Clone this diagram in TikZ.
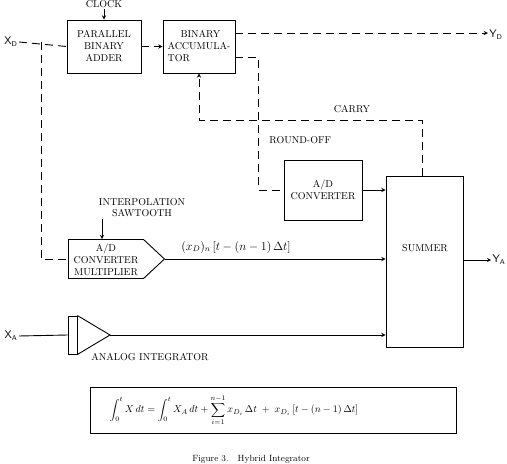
\documentclass[tikz,border=0pt]{standalone}
\usepackage{amsmath}
\usepackage{amssymb}
\usepackage{tikz}
\usetikzlibrary{shapes,arrows,positioning,calc}

\begin{document}
\begin{tikzpicture}[
    x=1pt, y=-1pt,
    block/.style={rectangle, draw, line width=0.9pt, align=center, inner sep=2pt, font=\fontsize{10}{12}\selectfont},
    tag/.style={align=center, inner sep=1pt, font=\fontsize{10}{11}\selectfont},
    io/.style={inner sep=1pt, font=\fontsize{10.5}{12}\selectfont},
    arrow/.style={->, >=stealth, line width=0.9pt},
    dashline/.style={line width=0.9pt, dash pattern=on 8pt off 5pt},
    every path/.style={line width=0.9pt}
]
\useasboundingbox (0,0) rectangle (507,464);

% ── Digital part ──
\node[block, minimum width=74, minimum height=53] (pba) at (104,46.5) {PARALLEL\\BINARY\\ADDER};
\node[block, minimum width=72, minimum height=53, align=left] (ba) at (199,46.5) {\hspace*{1.3em}BINARY\\ACCUMULA-\\TOR};
\node[tag] (clock) at (104,4) {CLOCK};
\node[io] (xD) at (11,42) {$\mathsf{X}_{\mathsf{D}}$};
\node[io] (yD) at (496,35) {$\mathsf{Y}_{\mathsf{D}}$};

% ── Converters and summer ──
\node[block, minimum width=78, minimum height=60] (adc) at (323,190) {A/D\\CONVERTER};
\node[rectangle, draw, line width=0.9pt, minimum width=77, minimum height=171] (summer) at (424.5,261.5) {};
\node[tag] (summerlbl) at (425,248) {SUMMER};
\node[signal, signal to=east, signal pointer angle=86, draw, line width=0.9pt, minimum width=96, minimum height=39, inner sep=0pt, anchor=west] (mult) at (68,259) {};
\node[tag, font=\fontsize{10}{12}\selectfont] (multlbl) at (106,260) {A/D\\CONVERTER\\MULTIPLIER};
\node[tag] (interp) at (142,208) {INTERPOLATION\\SAWTOOTH};
\node[io] (yA) at (499,260) {$\mathsf{Y}_{\mathsf{A}}$};
\node[font=\large] (multout) at (236,247) {$(x_D)_n\left[t-(n-1)\,\Delta t\right]$};

% ── Analog integrator ──
\node[io] (xA) at (11,336) {$\mathsf{X}_{\mathsf{A}}$};
\node[rectangle, draw, line width=0.9pt, minimum width=9, minimum height=38, inner sep=0pt] (intbar) at (72.5,335) {};
\coordinate (ampout) at (110,335);
\node[tag, anchor=west] (intlbl) at (90,357) {ANALOG INTEGRATOR};

% ── Equation and caption ──
\node[draw, line width=0.9pt, minimum width=366, minimum height=46] (eqn) at (273,410) {};
\node[inner sep=0pt] (eqntext) at (234,410)
  {$\displaystyle \int_0^t X\,dt = \int_0^t X_A\,dt + \sum_{i=1}^{n-1} x_{D_i}\,\Delta t \;+\; x_{D_i}\left[t-(n-1)\,\Delta t\right]$};
\node[font=\small] (caption) at (251,459) {Figure 3.\quad Hybrid Integrator};

% ═══════════════════════════
% CONNECTORS
% ═══════════════════════════

% X_D into adder, tap down to multiplier
\coordinate (tap) at (41,42);
\draw[dashline] (xD.east) -- (pba.west);
\draw[dashline] (tap) |- (mult.west);

% Clock into adder
\draw[arrow] (clock.south) -- (pba.north);

% Adder → accumulator
\draw[arrow, dashline] (pba.east) -- (ba.west);

% Accumulator → Y_D
\coordinate (baup) at ($(ba.north east)!0.25!(ba.south east)$);
\coordinate (balow) at ($(ba.north east)!0.7!(ba.south east)$);
\draw[arrow, dashline] (baup) -- (baup -| yD.west);

% Round-off → A/D converter
\draw[dashline] (balow) -- ++(23,0) |- (adc.west);
\node[tag, anchor=west] (roundoff) at (268,140) {ROUND-OFF};

% Carry from summer back to accumulator
\draw[arrow, dashline] ([xshift=-2pt]summer.north) -- ++(0,-55) -| (ba.south);
\node[tag] (carry) at (352,109) {CARRY};

% A/D converter → summer
\draw[arrow] (adc.east) -- (adc.east -| summer.west);

% Sawtooth into multiplier
\draw[arrow] ([xshift=-40pt]interp.south) -- ([xshift=-40pt]interp.south |- mult.north);

% Multiplier → summer
\draw[arrow] (mult.east) -- (mult.east -| summer.west);

% Summer → Y_A
\draw[arrow] (summer.east |- yA.west) -- (yA.west);

% Analog path
\draw (xA.east) -- (intbar.west);
\draw (intbar.north east) -- (ampout) -- (intbar.south east);
\draw[arrow] (ampout) -- (ampout -| summer.west);

\end{tikzpicture}
\end{document}
